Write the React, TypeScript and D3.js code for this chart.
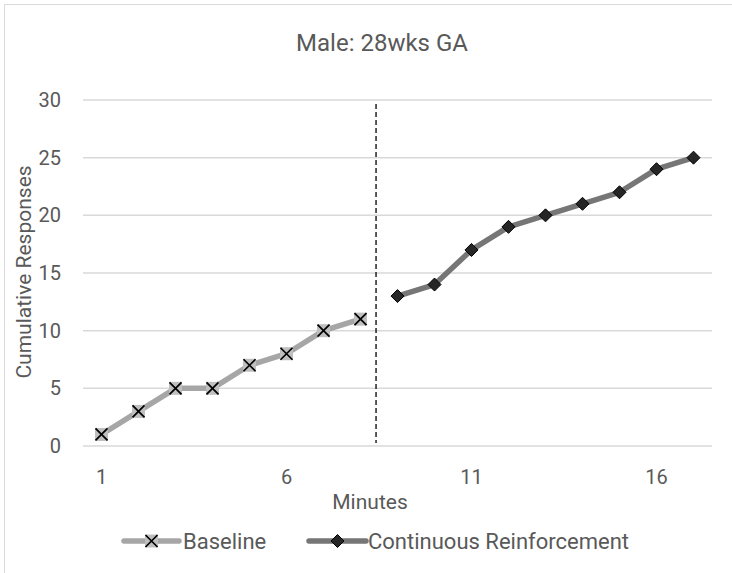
import React from "react";
import * as d3 from "d3";

// minutes on the x axis (category positions)
const minutes = d3.range(1, 18);
const xTickLabels = [1, 6, 11, 16];
const yTicks = [0, 5, 10, 15, 20, 25, 30];

// cumulative responses per phase
const baselineMinutes = [1, 2, 3, 4, 5, 6, 7, 8];
const baselineValues = [1, 3, 5, 5, 7, 8, 10, 11];
const reinforcementMinutes = [9, 10, 11, 12, 13, 14, 15, 16, 17];
const reinforcementValues = [13, 14, 17, 19, 20, 21, 22, 24, 25];

// phase change line (between minute 8 and 9)
const phaseChange = 8.42;
const phaseLineRange = [0.25, 29.65];

const W = 732;
const H = 573;
const font = "Roboto, 'Open Sans', sans-serif";
const textColor = "#595959";

const plot = { left: 83, right: 712, top: 100, bottom: 446 };

const XMarker = ({ x, y }: { x: number; y: number }) => (
  <g transform={`translate(${x},${y})`}>
    <rect x={-6.5} y={-6.5} width={13} height={13} fill="#BFBFBF" />
    <path d="M-6,-6L6,6M6,-6L-6,6" stroke="#000" strokeWidth={1.7} />
  </g>
);

const Diamond = ({ x, y }: { x: number; y: number }) => (
  <path
    transform={`translate(${x},${y})`}
    d="M0,-6.5L6.5,0L0,6.5L-6.5,0Z"
    fill="#262626"
    stroke="#000"
    strokeWidth={1}
  />
);

export default function App() {
  const x = d3
    .scaleLinear()
    .domain([minutes[0] - 0.5, minutes[minutes.length - 1] + 0.5])
    .range([plot.left, plot.right]);
  const y = d3.scaleLinear().domain([0, 30]).range([plot.bottom, plot.top]);

  const line = d3
    .line<[number, number]>()
    .x((d) => x(d[0]))
    .y((d) => y(d[1]));

  const baseline = baselineMinutes.map((m, i) => [m, baselineValues[i]] as [number, number]);
  const reinforcement = reinforcementMinutes.map(
    (m, i) => [m, reinforcementValues[i]] as [number, number]
  );

  const legendY = 541;

  return (
    <svg
      width={W}
      height={H}
      style={{ position: "absolute", left: 0, top: 0, background: "#fff" }}
      fontFamily={font}
    >
      <rect x={4.5} y={4.5} width={W + 10} height={H + 10} fill="#fff" stroke="#D9D9D9" strokeWidth={1} />

      {/* title */}
      <text x={382} y={51} textAnchor="middle" fontSize={24} fill={textColor}>
        Male: 28wks GA
      </text>

      {/* gridlines + y ticks */}
      {yTicks.map((t) => (
        <g key={t}>
          <line x1={plot.left} x2={plot.right} y1={y(t)} y2={y(t)} stroke="#D9D9D9" strokeWidth={1.5} />
          <text x={61} y={y(t) + 7} textAnchor="end" fontSize={20} fill={textColor}>
            {t}
          </text>
        </g>
      ))}

      {/* x ticks */}
      {xTickLabels.map((t) => (
        <text key={t} x={x(t)} y={484} textAnchor="middle" fontSize={20} fill={textColor}>
          {t}
        </text>
      ))}

      {/* axis titles */}
      <text x={370} y={509} textAnchor="middle" fontSize={21} fill={textColor}>
        Minutes
      </text>
      <text
        transform={`translate(31,272) rotate(-90)`}
        textAnchor="middle"
        fontSize={21}
        fill={textColor}
      >
        Cumulative Responses
      </text>

      {/* phase change line */}
      <line
        x1={x(phaseChange)}
        x2={x(phaseChange)}
        y1={y(phaseLineRange[1])}
        y2={y(phaseLineRange[0])}
        stroke="#000"
        strokeWidth={1.3}
        strokeDasharray="5,3"
      />

      {/* series */}
      <path d={line(baseline) || ""} fill="none" stroke="#A6A6A6" strokeWidth={5.5} strokeLinejoin="round" />
      {baseline.map((d, i) => (
        <XMarker key={i} x={x(d[0])} y={y(d[1])} />
      ))}
      <path d={line(reinforcement) || ""} fill="none" stroke="#767676" strokeWidth={5.5} strokeLinejoin="round" />
      {reinforcement.map((d, i) => (
        <Diamond key={i} x={x(d[0])} y={y(d[1])} />
      ))}

      {/* legend */}
      <g>
        <line x1={124} x2={179} y1={legendY} y2={legendY} stroke="#A6A6A6" strokeWidth={5.5} strokeLinecap="round" />
        <XMarker x={151.5} y={legendY} />
        <text x={183} y={legendY + 8} fontSize={22} fill={textColor}>
          Baseline
        </text>
        <line x1={309} x2={366} y1={legendY} y2={legendY} stroke="#767676" strokeWidth={5.5} strokeLinecap="round" />
        <Diamond x={337.5} y={legendY} />
        <text x={368} y={legendY + 8} fontSize={22} fill={textColor}>
          Continuous Reinforcement
        </text>
      </g>
    </svg>
  );
}
